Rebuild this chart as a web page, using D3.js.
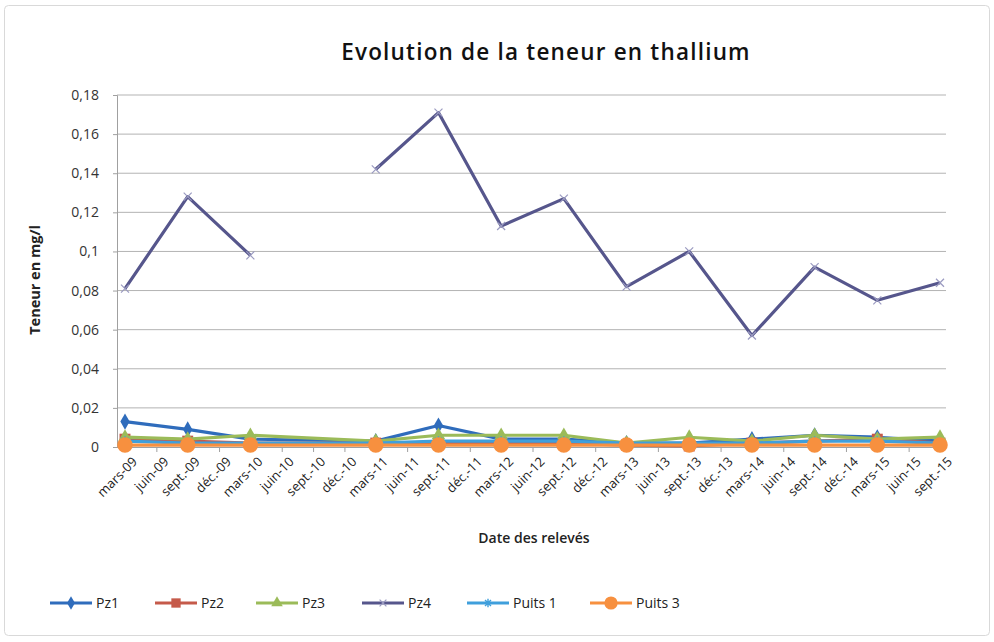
<!DOCTYPE html>
<html><head><meta charset="utf-8">
<script src="https://cdn.jsdelivr.net/npm/d3@7"></script>
<style>
html,body{margin:0;padding:0;background:#fff;}
text{font-family:"Open Sans","Noto Sans",sans-serif;}
</style></head>
<body><svg id="c" width="994" height="642"></svg>
<script>
// ---- data ----
const categories = ["mars-09","juin-09","sept.-09","déc.-09","mars-10","juin-10","sept.-10","déc.-10",
  "mars-11","juin-11","sept.-11","déc.-11","mars-12","juin-12","sept.-12","déc.-12",
  "mars-13","juin-13","sept.-13","déc.-13","mars-14","juin-14","sept.-14","déc.-14",
  "mars-15","juin-15","sept.-15"];
const sampleDates = ["mars-09","sept.-09","mars-10","sept.-10","mars-11","sept.-11","mars-12","sept.-12",
  "mars-13","sept.-13","mars-14","sept.-14","mars-15","sept.-15"];
const pz1    = [0.013,0.009,0.004,null,0.003,0.011,0.004,0.004,0.002,0.002,0.004,0.006,0.005,0.003];
const pz2    = [0.004,0.003,0.002,null,0.002,0.002,0.002,0.002,0.001,0.0005,0.002,0.003,0.004,0.002];
const pz3    = [0.005,0.004,0.006,null,0.003,0.006,0.006,0.006,0.002,0.005,0.003,0.006,0.004,0.005];
const pz4    = [0.081,0.128,0.098,null,0.142,0.171,0.113,0.127,0.082,0.100,0.057,0.092,0.075,0.084];
const puits1 = [0.003,0.002,0.002,null,0.002,0.003,0.003,0.003,0.002,0.002,0.002,0.003,0.003,0.002];
const puits3 = [0.001,0.001,0.001,null,0.001,0.001,0.001,0.001,0.001,0.001,0.001,0.001,0.001,0.001];
const seriesNames = ["Pz1","Pz2","Pz3","Pz4","Puits 1","Puits 3"];
const yTicks = [0,0.02,0.04,0.06,0.08,0.1,0.12,0.14,0.16,0.18];
const title = "Evolution de la teneur en thallium";
const xTitle = "Date des relevés";
const yTitle = "Teneur en mg/l";

(function(){
// ---- styles ----
const styles = [
  {color:"#2f6cbc", sym:d3.symbolDiamond, size:75, gap:false},
  {color:"#c55a4a", sym:d3.symbolSquare, size:120, gap:false},
  {color:"#9bbb59", sym:d3.symbolTriangle, size:80, gap:false},
  {color:"#56568c", sym:"x", size:0, gap:true},
  {color:"#3f9fdc", sym:"star", size:0, gap:false},
  {color:"#f7903f", sym:d3.symbolCircle, size:190, gap:false}
];
const values = [pz1,pz2,pz3,pz4,puits1,puits3];

const svg = d3.select("#c");
svg.append("rect").attr("x",4.5).attr("y",5.5).attr("width",985).attr("height",630)
  .attr("fill","#fff").attr("stroke","#d9d9d9").attr("rx",4);

const pLeft = 117, pRight = 946, pTop = 95, pBottom = 447;
const x = d3.scalePoint().domain(categories).range([125, 940]);
const y = d3.scaleLinear().domain([0,0.18]).range([pBottom, pTop]);
const loc = d3.formatLocale({decimal:",", thousands:" ", grouping:[3], currency:["","€"]});
const fmt = loc.format("~g");

// gridlines
svg.append("g").selectAll("line").data(yTicks.filter(d=>d>0)).join("line")
  .attr("x1",pLeft).attr("x2",pRight).attr("y1",d=>y(d)).attr("y2",d=>y(d))
  .attr("stroke","#b3b3b3").attr("stroke-width",1);

// y axis
const yAxis = svg.append("g").attr("transform",`translate(${pLeft},0)`)
  .call(d3.axisLeft(y).tickValues(yTicks).tickFormat(fmt).tickSize(4).tickPadding(14));
yAxis.select(".domain").attr("stroke","#a0a0a0");
yAxis.selectAll(".tick line").attr("stroke","#a0a0a0");
yAxis.selectAll("text").attr("font-size",14).attr("fill","#333").attr("font-family","'Open Sans',sans-serif");

// x axis
const xAxis = svg.append("g").attr("transform",`translate(0,${pBottom})`)
  .call(d3.axisBottom(x).tickSize(5).tickPadding(4));
xAxis.select(".domain").attr("d",`M${pLeft},0.5H${pRight}`).attr("stroke","#a0a0a0");
xAxis.selectAll(".tick line").attr("stroke","#a0a0a0");
xAxis.selectAll("text").attr("font-size",13).attr("fill","#222")
  .attr("font-family","'Open Sans',sans-serif")
  .attr("text-anchor","end").attr("dy","0.35em")
  .attr("transform","translate(3,6) rotate(-45)");

function drawMarker(g, st, cx, cy, scale){
  scale = scale||1;
  if(st.sym==="x"){
    const s=4*scale;
    g.append("path").attr("d",`M${cx-s},${cy-s}L${cx+s},${cy+s}M${cx-s},${cy+s}L${cx+s},${cy-s}`)
      .attr("stroke","#9a9ac0").attr("stroke-width",1.2).attr("fill","none");
  } else if(st.sym==="star"){
    const s=5*scale;
    g.append("path").attr("d",`M${cx-s},${cy}L${cx+s},${cy}M${cx},${cy-s}L${cx},${cy+s}M${cx-s*0.7},${cy-s*0.7}L${cx+s*0.7},${cy+s*0.7}M${cx-s*0.7},${cy+s*0.7}L${cx+s*0.7},${cy-s*0.7}`)
      .attr("stroke",st.color).attr("stroke-width",1.4).attr("fill","none");
  } else {
    g.append("path").attr("d",d3.symbol().type(st.sym).size(st.size*scale*scale)())
      .attr("transform",`translate(${cx},${cy})`).attr("fill",st.color);
  }
}

values.forEach((vals,i)=>{
  const st = styles[i];
  const pts = sampleDates.map((d,j)=>({d, v:vals[j]}));
  const g = svg.append("g");
  const line = d3.line().x(p=>x(p.d)).y(p=>y(p.v)).defined(p=>p.v!=null);
  const data = st.gap ? pts : pts.filter(p=>p.v!=null);
  g.append("path").attr("d",line(data)).attr("fill","none")
    .attr("stroke",st.color).attr("stroke-width",3.2).attr("stroke-linejoin","round");
  pts.filter(p=>p.v!=null).forEach(p=>drawMarker(g, st, x(p.d), y(p.v)));
});

// titles
svg.append("text").attr("x",546).attr("y",60).attr("text-anchor","middle")
  .attr("font-size",22.5).attr("font-weight",600).attr("letter-spacing",1.2).attr("fill","#111").text(title);
svg.append("text").attr("x",534).attr("y",543).attr("text-anchor","middle")
  .attr("font-size",14).attr("font-weight",600).attr("fill","#222").text(xTitle);
svg.append("text").attr("transform","translate(40,280) rotate(-90)").attr("text-anchor","middle")
  .attr("font-size",14.5).attr("font-weight",700).attr("fill","#222").text(yTitle);

// legend
const legX = [50,155,256,362,467,590];
const legY = 603;
seriesNames.forEach((n,i)=>{
  const st = styles[i];
  const g = svg.append("g");
  g.append("line").attr("x1",legX[i]).attr("x2",legX[i]+42).attr("y1",legY).attr("y2",legY)
    .attr("stroke",st.color).attr("stroke-width",3.2);
  drawMarker(g, st, legX[i]+21, legY, 0.85);
  g.append("text").attr("x",legX[i]+46).attr("y",legY).attr("dy","0.35em")
    .attr("font-size",14).attr("fill","#222").text(n);
});
})();
</script>
</body></html>
